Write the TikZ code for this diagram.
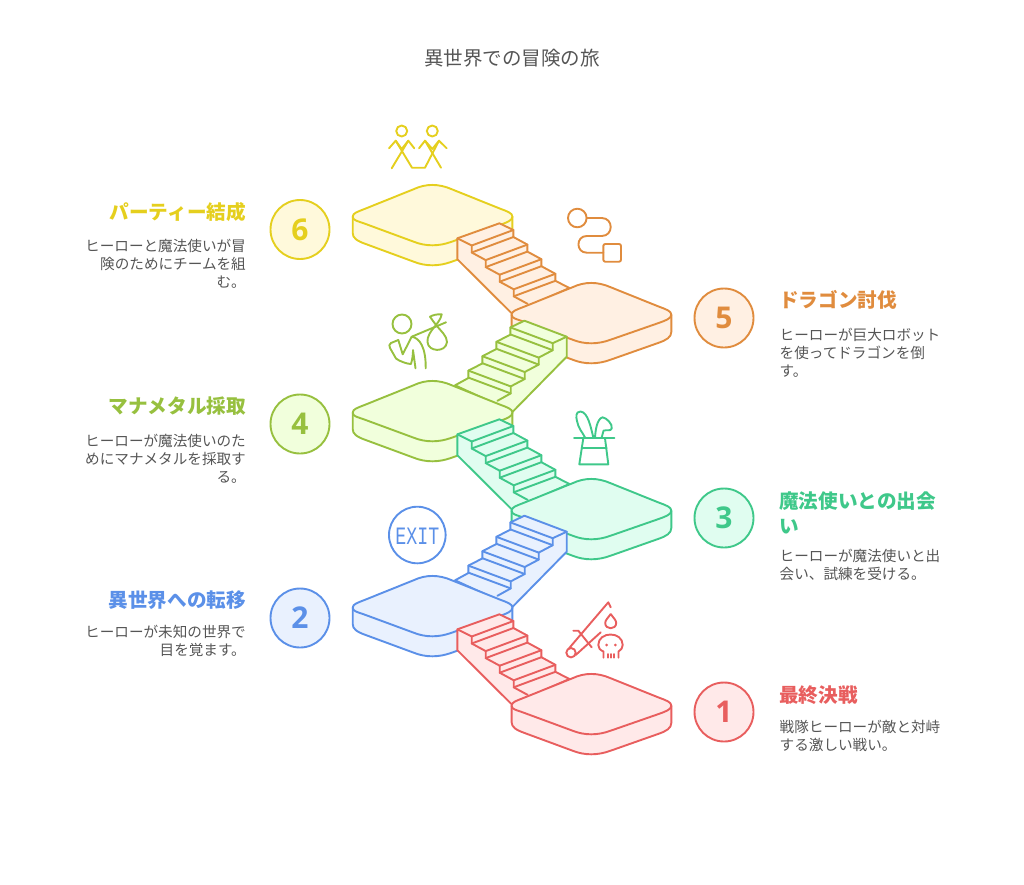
\documentclass[tikz,border=0pt]{standalone}
\usepackage{fontspec}
\setmainfont{Noto Sans CJK JP}
\newfontfamily\exitfont{Liberation Mono}
\newfontfamily\numfont{Open Sans}
\usetikzlibrary{positioning}

\definecolor{partyln}{HTML}{E5CF1E}
\definecolor{partybg}{HTML}{FFF9DB}
\definecolor{dragonln}{HTML}{E08C3E}
\definecolor{dragonbg}{HTML}{FFF0E3}
\definecolor{manaln}{HTML}{97C03F}
\definecolor{manabg}{HTML}{F1FFDC}
\definecolor{wizardln}{HTML}{3FC88A}
\definecolor{wizardbg}{HTML}{E0FDF0}
\definecolor{isekailn}{HTML}{5B90E8}
\definecolor{isekaibg}{HTML}{E9F1FE}
\definecolor{battleln}{HTML}{E85E5E}
\definecolor{battlebg}{HTML}{FFE9E9}
\definecolor{bodytext}{HTML}{555555}

\tikzset{
    outline/.style={line width=1.9pt, line join=round, line cap=round},
}

% Rounded slab, #2 and #3 give the middle of its top face
\newcommand{\platform}[3]{
\begin{scope}[shift={(#2,#3)}]
\filldraw[outline, draw=#1ln, fill=#1bg] (-79,1.7) -- (-79,18) .. controls (-79,23) and (-75,25.8) .. (-66,29) -- (-18,46.7) .. controls (-6,51.5) and (7,51.5) .. (20,46.7) -- (68,29.8) .. controls (76,27) and (80.7,24) .. (80.7,19) -- (80.7,1.7) -- cycle;
\filldraw[outline, draw=#1ln, fill=#1bg] (-66,-6.5) -- (-18,-25.8) .. controls (-6,-31.5) and (7,-31.5) .. (20,-25.8) -- (68,-6.5) .. controls (76,-3.5) and (80.7,-2) .. (80.7,1.7) .. controls (80.7,5.5) and (75,7.5) .. (68,10) -- (20,26.7) .. controls (7,31.5) and (-6,31.5) .. (-18,26.7) -- (-66,9) .. controls (-74,6) and (-79,5.5) .. (-79,1.7) .. controls (-79,-2) and (-74,-3.3) .. (-66,-6.5) -- cycle;
\end{scope}
}

% Stairs going down to the right, measured from the upper slab
\newcommand{\stairdown}[3]{
\begin{scope}[shift={(#2,#3)}]
\filldraw[outline, draw=#1ln, fill=#1bg] (25.7,23.3) -- (67.7,8.3) -- (81.7,15) -- (81.7,22) -- (95.7,29.6) -- (95.7,36.6) -- (109.7,44.2) -- (109.7,51.2) -- (123.7,58.8) -- (123.7,65.8) -- (137.7,73) -- (80,98.3) -- (25.7,44.3) -- cycle;
\draw[outline, draw=#1ln] (25.7,23.3) -- (40,30.5) -- (40,37.5) -- (54,45.1) -- (54,52.1) -- (68,59.7) -- (68,66.7) -- (82,74.3) -- (82,81.3) -- (96,88.9);
\foreach \i in {1,2,3,4} {
    \draw[outline, draw=#1ln] ({26+14*\i},{15.9+14.6*\i}) -- ({67.7+14*\i},{0.4+14.6*\i});
    \draw[outline, draw=#1ln] ({26+14*\i},{22.9+14.6*\i}) -- ({67.7+14*\i},{7.4+14.6*\i});
}
\end{scope}
}

% Stairs going up to the right, measured from the lower slab
\newcommand{\stairup}[3]{
\begin{scope}[shift={(#2,#3)}]
\filldraw[outline, draw=#1ln, fill=#1bg] (92.7,-90.3) -- (135,-74.3) -- (135,-54.3) -- (81,0.7) -- (23.3,-25.7) -- (36.7,-33) -- (36.7,-40.4) -- (50.7,-47.6) -- (50.7,-54.8) -- (64.7,-62) -- (64.7,-69.2) -- (78.7,-76.4) -- (78.7,-83.6) -- cycle;
\draw[outline, draw=#1ln] (135,-74.3) -- (121,-67.8) -- (121,-60.8) -- (107,-53.4) -- (107,-46.4) -- (93,-39) -- (93,-32) -- (79,-24.6) -- (79,-17.6) -- (65.7,-10.2);
\foreach \i in {1,2,3,4} {
    \draw[outline, draw=#1ln] ({92.7-14*\i},{-98+14.4*\i}) -- ({135-14*\i},{-82.2+14.4*\i});
    \draw[outline, draw=#1ln] ({92.7-14*\i},{-91+14.4*\i}) -- ({135-14*\i},{-75.2+14.4*\i});
}
\end{scope}
}

\begin{document}
\begin{tikzpicture}[x=1pt, y=-1pt,
    numdisc/.style={circle, outline, minimum size=59pt, inner sep=0pt, font=\fontsize{30}{30}\numfont\bfseries},
    heading/.style={font=\fontsize{19.6}{25.5}\selectfont\bfseries, inner sep=0pt},
    desc/.style={font=\fontsize{14.6}{18}\selectfont, text=bodytext, inner sep=0pt}
]
\useasboundingbox (0,0) rectangle (1024,884);

\node[font=\fontsize{19.5}{24}\selectfont, text=bodytext, inner sep=0pt] (title) at (512,58) {異世界での冒険の旅};

% Slabs and stairs, back to front
\platform{party}{431.7}{215}
\stairdown{dragon}{431.7}{215}
\platform{dragon}{590.6}{313}
\stairup{mana}{431.7}{411}
\platform{mana}{431.7}{411}
\stairdown{wizard}{431.7}{411}
\platform{wizard}{590.6}{509}
\stairup{isekai}{431.7}{606}
\platform{isekai}{431.7}{606}
\stairdown{battle}{431.7}{606}
\platform{battle}{590.6}{704}

% Numbers
\node[numdisc, draw=partyln, fill=partybg, text=partyln] (num6) at (300,229.5) {6};
\node[numdisc, draw=dragonln, fill=dragonbg, text=dragonln] (num5) at (724,318) {5};
\node[numdisc, draw=manaln, fill=manabg, text=manaln] (num4) at (300,424) {4};
\node[numdisc, draw=wizardln, fill=wizardbg, text=wizardln] (num3) at (724,518) {3};
\node[numdisc, draw=isekailn, fill=isekaibg, text=isekailn] (num2) at (300,618) {2};
\node[numdisc, draw=battleln, fill=battlebg, text=battleln] (num1) at (724,712) {1};

% Headings
\node[heading, anchor=east, text=partyln] (head6) at (246,212) {パーティー結成};
\node[heading, anchor=west, text=dragonln] (head5) at (779,300) {ドラゴン討伐};
\node[heading, anchor=east, text=manaln] (head4) at (246,406) {マナメタル採取};
\node[heading, anchor=north west, align=left, text=wizardln] (head3) at (779,491) {魔法使いとの出会\\い};
\node[heading, anchor=east, text=isekailn] (head2) at (246,600) {異世界への転移};
\node[heading, anchor=west, text=battleln] (head1) at (779,695) {最終決戦};

% Descriptions
\node[desc, anchor=north east, align=right] (desc6) at (246,239) {ヒーローと魔法使いが冒\\険のためにチームを組\\む。};
\node[desc, anchor=north west, align=left] (desc5) at (779.5,328) {ヒーローが巨大ロボット\\を使ってドラゴンを倒\\す。};
\node[desc, anchor=north east, align=right] (desc4) at (246,434) {ヒーローが魔法使いのた\\めにマナメタルを採取す\\る。};
\node[desc, anchor=north west, align=left] (desc3) at (779.5,549) {ヒーローが魔法使いと出\\会い、試練を受ける。};
\node[desc, anchor=north east, align=right] (desc2) at (246,625) {ヒーローが未知の世界で\\目を覚ます。};
\node[desc, anchor=north west, align=left] (desc1) at (779.5,720) {戦隊ヒーローが敵と対峙\\する激しい戦い。};

% Two figures holding hands
\begin{scope}[outline, draw=partyln]
\draw (401.7,131) circle (5.5);
\draw (432.3,131) circle (5.5);
\draw (389,148.3) -- (395.7,140.7) -- (401.7,149) -- (408.3,140.7) -- (414.3,148.3);
\draw (419,148.3) -- (425,140.7) -- (432.3,149) -- (439,140.7) -- (446.7,148.3);
\draw (391.7,168.3) -- (408.3,140.7);
\draw (395.7,140.7) -- (412,167.7) -- (425,167.7) -- (439,140.7);
\draw (425,140.7) -- (441,167.7);
\end{scope}

% Circle to square route
\begin{scope}[outline, draw=dragonln]
\draw (577.3,218) circle (9.3);
\draw (586.7,218) -- (601.7,218) .. controls (613.7,218) and (613.7,236) .. (601.7,236) -- (586.7,236) .. controls (575.7,236) and (575.7,252.7) .. (586.7,252.7) -- (603.3,252.7);
\draw[rounded corners=2pt] (603.3,244) rectangle (621,261.7);
\end{scope}

% Traveller with bundle
\begin{scope}[outline, draw=manaln]
\draw (402,324) circle (9.5);
\draw (411.7,336.7) -- (446,322.3);
\draw (436,325) .. controls (430,332) and (427,337) .. (427.5,342) .. controls (428,352) and (446,353) .. (447,342) .. controls (447,336) and (441,331) .. (436,325) .. controls (439,321) and (441,318) .. (441.7,314.3) .. controls (437,314) and (433,315) .. (430,316.7) .. controls (432,320) and (434,322) .. (436,325);
\draw (398.3,340) -- (391,343) .. controls (389,344) and (389,346) .. (390,348) -- (396,358.5) .. controls (399,361) and (407,364) .. (411,364) .. controls (412.5,359) and (413,354) .. (413,350) -- (415.5,368.3);
\draw (398.3,340) -- (402.7,354.3) -- (411.7,336.7) .. controls (420,338) and (426,348) .. (425.7,368.3);
\end{scope}

% Rabbit in a hat
\begin{scope}[outline, draw=wizardln]
\draw (574,438.3) -- (614.3,438.3);
\draw (583.3,438.3) -- (579.3,464.3) -- (608.3,464.3) -- (605,438.3);
\draw (581.7,447.7) -- (606.7,447.7);
\draw (593.3,437.5) .. controls (591,428) and (588,412) .. (580.5,411.5) .. controls (575.5,411.5) and (576,417) .. (577,421) .. controls (578,428) and (583,433) .. (585,437.5);
\draw (595,437.5) .. controls (595.5,430) and (597,419) .. (602.5,417.3) .. controls (606,417.5) and (613,424) .. (611.7,428.5) .. controls (611,431.5) and (606,429.5) .. (603.5,430.7) -- (601.7,437.5);
\end{scope}

% Exit sign
\draw[outline, draw=isekailn] (417.3,535) circle (28.3);
\node[text=isekailn, inner sep=0pt, xscale=0.73, font=\fontsize{25}{25}\exitfont] (exitsign) at (417.3,536) {EXIT};

% Sword, drop of blood and skull
\begin{scope}[outline, draw=battleln]
\draw (571,652.7) circle (4.7);
\draw (569,648.3) -- (608.3,602.3) -- (610.7,607.3);
\draw (575.7,655) -- (600.7,632.3);
\draw (573.3,630.7) -- (578.3,630.7) -- (591.7,647.3);
\draw (610.7,614) .. controls (608,618) and (605.2,620) .. (605.2,623) .. controls (605.2,630) and (616.2,630) .. (616.2,623) .. controls (616.2,620) and (613.4,618) .. (610.7,614);
\draw (603.5,657.7) -- (603.5,651.5) .. controls (600,650) and (598.3,648) .. (598.3,645) .. controls (598.3,631) and (622.7,631) .. (622.7,645) .. controls (622.7,648) and (621,650) .. (618.5,651.5) -- (618.5,657.7);
\fill[battleln] (606.7,645) circle (1.5);
\fill[battleln] (615.3,645) circle (1.5);
\draw (608.3,654) -- (608.3,657.7);
\draw (611,654) -- (611,657.7);
\draw (613.7,654) -- (613.7,657.7);
\end{scope}

\end{tikzpicture}
\end{document}
